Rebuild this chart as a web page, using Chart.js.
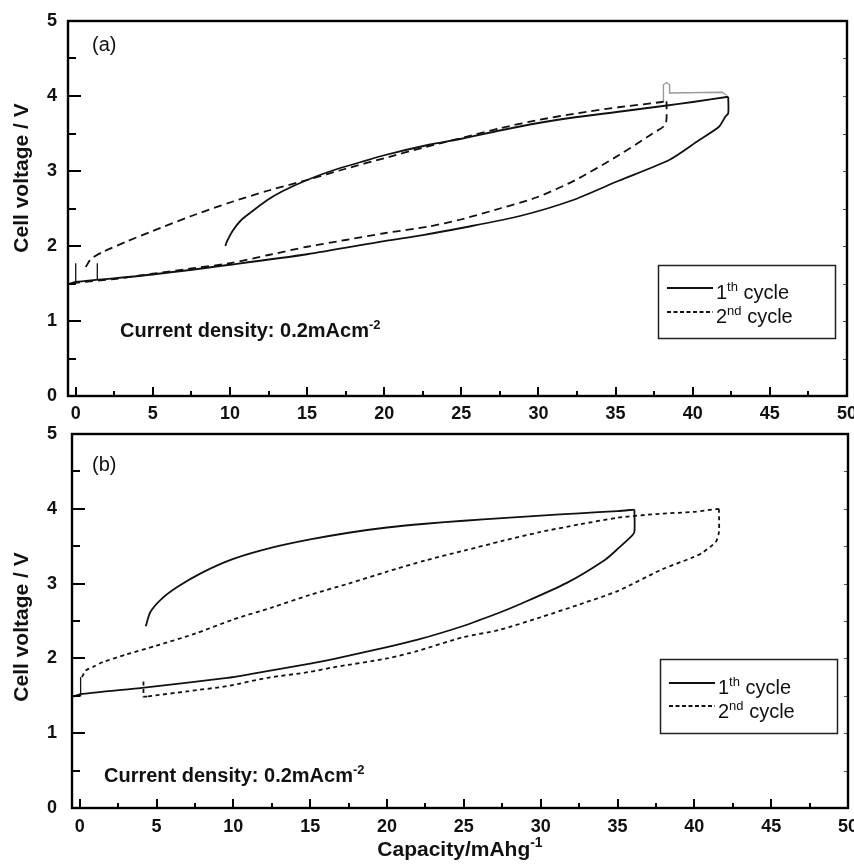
<!DOCTYPE html>
<html><head><meta charset="utf-8">
<script src="https://cdn.jsdelivr.net/npm/chart.js@4/dist/chart.umd.min.js"></script>
<style>
html,body{margin:0;padding:0;background:#fff;width:854px;height:866px;overflow:hidden}
canvas{position:absolute;left:0}
#ca{top:0}#cb{top:420px}
</style></head>
<body>
<canvas id="ca" width="854" height="420"></canvas>
<canvas id="cb" width="854" height="446"></canvas>
<script>
// ---- axis ticks ----
const xTicks = [0,5,10,15,20,25,30,35,40,45,50];
const yTicks = [0,1,2,3,4,5];

// ---- panel (a) ----
// 1st cycle: charge branch, then drop + discharge branch
const a1UpX = [9.7,9.8,10.2,10.7,11.3,12.4,13.4,15,16.7,18.5,20,22.9,25,27.5,30,32.5,35.2,38.2,40,42.3];
const a1UpY = [2.0,2.06,2.21,2.34,2.44,2.61,2.73,2.88,3.01,3.12,3.21,3.35,3.43,3.54,3.64,3.72,3.79,3.87,3.92,3.99];
const a1DnX = [42.3,42.3,42.1,41.7,40.4,38.5,35.2,32.2,28.8,25,22.5,20,15,10,5,0,-0.5];
const a1DnY = [3.99,3.77,3.72,3.59,3.41,3.15,2.87,2.61,2.4,2.24,2.145,2.065,1.89,1.75,1.62,1.52,1.49];
// 2nd cycle
const a2UpX = [0.65,1.0,1.75,3.3,5,7.5,10,12.5,15,17.5,20,22.5,25,27.5,30,32.5,35.2,38.0,38.3];
const a2UpY = [1.72,1.83,1.92,2.06,2.2,2.4,2.58,2.74,2.88,3.03,3.17,3.31,3.44,3.57,3.68,3.77,3.85,3.92,3.93];
const a2DnX = [38.3,38.3,38.2,37.4,35.2,32.4,29.9,27.5,24.9,22.9,20,17.5,15,12.5,10,7.5,5,2.5,0];
const a2DnY = [3.93,3.7,3.61,3.5,3.21,2.88,2.65,2.5,2.35,2.26,2.17,2.08,1.99,1.88,1.77,1.7,1.63,1.56,1.51];
// grey trace and small spikes
const aGrayX = [38.1,38.1,38.3,38.5,38.5,41.9,42.2];
const aGrayY = [3.92,4.15,4.18,4.15,4.04,4.05,4.01];
const aSpike1X = [0,0],   aSpike1Y = [1.51,1.77];
const aSpike2X = [1.4,1.4], aSpike2Y = [1.55,1.77];

// ---- panel (b) ----
const b1UpX = [4.3,4.6,5.3,6.4,8,10,12.5,15,17.5,20,22.5,25,27.5,30,32.5,35,36.1];
const b1UpY = [2.43,2.62,2.79,2.96,3.15,3.33,3.48,3.59,3.68,3.75,3.8,3.84,3.875,3.91,3.94,3.97,3.99];
const b1DnX = [36.1,36.1,35.9,35.1,34.2,31.7,28.6,27.3,24.9,22,20,16.5,15,11.1,9.6,4.2,0,-0.4];
const b1DnY = [3.99,3.69,3.63,3.48,3.32,3.01,2.72,2.61,2.43,2.25,2.15,1.99,1.93,1.79,1.74,1.61,1.52,1.49];
const b2UpX = [0.15,0.4,0.9,1.5,3,5,7.5,10,12.5,15,17.5,20,22.5,25,27.5,30,32.5,35,37.5,40,41.6];
const b2UpY = [1.75,1.84,1.89,1.95,2.05,2.17,2.33,2.52,2.68,2.85,3.0,3.16,3.31,3.44,3.57,3.69,3.79,3.88,3.93,3.96,4.0];
const b2DnX = [41.6,41.6,41.4,40.5,39.9,37.9,35,32.5,30,27.3,24.9,22,20,16.5,15,12.2,9.6,7,4.4];
const b2DnY = [4.0,3.69,3.56,3.41,3.35,3.19,2.9,2.72,2.55,2.38,2.28,2.1,2.0,1.88,1.82,1.74,1.63,1.56,1.49];
const b2HookX = [4.4,4.15,4.15], b2HookY = [1.49,1.49,1.72];
const bSpikeX = [0.06,0.06], bSpikeY = [1.49,1.75];

const seriesNames = ['1', '2'];
const FF = '"Liberation Sans", Arial, Helvetica, sans-serif';
const INK = '#111';

function pts(xs, ys){ return xs.map((x,i)=>({x:x, y:ys[i]})); }
function ds(xs, ys, dash, color, w, t){
  return {data: pts(xs, ys), showLine:true, pointRadius:0, borderColor:color||INK,
          borderWidth:w||1.8, borderDash:dash||[], fill:false, tension:(t===undefined?0.25:t)};
}

function rich(ctx, x, y, parts, size, weight){
  let cx = x;
  for (const [t, sup] of parts){
    const fs = sup ? Math.round(size*0.66) : size;
    ctx.font = weight + ' ' + fs + 'px ' + FF;
    ctx.fillText(t, cx, sup ? y - size*0.42 : y);
    cx += ctx.measureText(t).width;
  }
  return cx;
}
function textWidth(ctx, parts, size, weight){
  let w = 0;
  for (const [t, sup] of parts){
    const fs = sup ? Math.round(size*0.66) : size;
    ctx.font = weight + ' ' + fs + 'px ' + FF;
    w += ctx.measureText(t).width;
  }
  return w;
}

function makeChart(id, datasets, P){
  const deco = {
    id: 'deco',
    afterDraw(chart){
      const ctx = chart.ctx, a = chart.chartArea;
      const xs = chart.scales.x, ys = chart.scales.y;
      ctx.save();
      ctx.strokeStyle = '#000';
      // inner ticks
      ctx.lineWidth = 2;
      ctx.beginPath();
      for (let v = 0; v <= 50.001; v += 2.5){
        const px = Math.round(xs.getPixelForValue(v));
        const len = (v % 5 === 0) ? 9 : 5;
        ctx.moveTo(px, a.bottom); ctx.lineTo(px, a.bottom - len);
      }
      for (let v = 0; v <= 5.001; v += 0.5){
        const py = Math.round(ys.getPixelForValue(v));
        const len = Number.isInteger(v) ? 13 : 8;
        ctx.moveTo(a.left, py); ctx.lineTo(a.left + len, py);
      }
      ctx.stroke();
      ctx.lineWidth = 1;
      ctx.strokeStyle = '#555';
      ctx.beginPath();
      for (let v = 0; v <= 5.001; v += 0.5){
        const py = Math.round(ys.getPixelForValue(v)) + 0.5;
        ctx.moveTo(a.right, py); ctx.lineTo(a.right - 4, py);
      }
      ctx.stroke();
      // frame
      ctx.strokeStyle = '#000';
      ctx.lineWidth = 2.4;
      ctx.strokeRect(a.left, a.top, a.right - a.left, a.bottom - a.top);

      ctx.fillStyle = '#111';
      ctx.textBaseline = 'alphabetic';
      ctx.textAlign = 'left';
      // panel label
      ctx.font = 'normal 20px ' + FF;
      ctx.fillText(P.label, P.labelX, P.labelY);
      // annotation
      rich(ctx, P.annX, P.annY, [['Current density: 0.2mAcm', false], ['-2', true]], 20, 'bold');
      // legend
      const L = P.leg;
      ctx.lineWidth = 1.5;
      ctx.strokeStyle = '#222';
      ctx.strokeRect(L.x0 + 0.5, L.y0 + 0.5, L.x1 - L.x0, L.y1 - L.y0);
      ctx.lineWidth = 1.8;
      ctx.strokeStyle = INK;
      ctx.beginPath(); ctx.setLineDash([]);
      ctx.moveTo(L.lx0, L.r1); ctx.lineTo(L.lx1, L.r1); ctx.stroke();
      ctx.beginPath(); ctx.setLineDash([4, 2.5]);
      ctx.moveTo(L.lx0, L.r2); ctx.lineTo(L.lx1, L.r2); ctx.stroke();
      ctx.setLineDash([]);
      rich(ctx, L.tx, L.b1, [[seriesNames[0], false], ['th', true], [' cycle', false]], 20, 'normal');
      rich(ctx, L.tx, L.b2, [[seriesNames[1], false], ['nd', true], [' cycle', false]], 20, 'normal');
      // y title
      ctx.save();
      ctx.translate(P.ytX, P.ytY);
      ctx.rotate(-Math.PI/2);
      ctx.textAlign = 'center';
      ctx.font = 'bold 21px ' + FF;
      ctx.fillText('Cell voltage / V', 0, 0);
      ctx.restore();
      // x title
      if (P.xTitle){
        const parts = [['Capacity/mAhg', false], ['-1', true]];
        const w = textWidth(ctx, parts, 21, 'bold');
        const cx = (a.left + a.right) / 2;
        rich(ctx, cx - w/2, P.xtY, parts, 21, 'bold');
      }
      ctx.restore();
    }
  };
  return new Chart(document.getElementById(id), {
    type: 'scatter',
    data: { datasets: datasets },
    options: {
      responsive: false, animation: false, devicePixelRatio: 1,
      layout: { padding: { left: 0, top: P.top, right: P.right, bottom: 0 } },
      plugins: { legend: { display: false }, tooltip: { enabled: false } },
      scales: {
        x: {
          type: 'linear', min: -0.5, max: 50,
          afterBuildTicks: s => { s.ticks = xTicks.map(v => ({ value: v })); },
          afterFit: s => { s.height = P.xh; s.paddingLeft = 0; s.paddingRight = 0; },
          grid: { display: false, drawTicks: false }, border: { display: false },
          ticks: { color: '#111', padding: P.xpad, maxRotation: 0, autoSkip: false,
                   font: { family: FF, size: 18, weight: 'bold' } }
        },
        y: {
          type: 'linear', min: 0, max: 5,
          afterBuildTicks: s => { s.ticks = yTicks.map(v => ({ value: v })); },
          afterFit: s => { s.width = P.yw; s.paddingTop = 0; s.paddingBottom = 0; },
          grid: { display: false, drawTicks: false }, border: { display: false },
          ticks: { color: '#111', padding: P.ypad, autoSkip: false,
                   font: { family: FF, size: 18, weight: 'bold' } }
        }
      }
    },
    plugins: [deco]
  });
}

makeChart('ca', [
  ds(a1UpX, a1UpY),
  ds(a1DnX, a1DnY),
  ds(a2UpX, a2UpY, [8, 5]),
  ds(a2DnX, a2DnY, [8, 5]),
  ds(aGrayX, aGrayY, [], '#9a9a9a', 1.4, 0),
  ds(aSpike1X, aSpike1Y, [], INK, 1.3, 0),
  ds(aSpike2X, aSpike2Y, [], INK, 1.3, 0)
], {
  top: 21, right: 7, xh: 24, yw: 68, xpad: 7, ypad: 11,
  label: '(a)', labelX: 92, labelY: 51,
  annX: 120, annY: 337,
  leg: { x0: 658, y0: 265, x1: 835, y1: 338, lx0: 667, lx1: 713, r1: 288, r2: 312, tx: 716, b1: 299, b2: 323 },
  ytX: 28, ytY: 178, xTitle: false
});

makeChart('cb', [
  ds(b1UpX, b1UpY),
  ds(b1DnX, b1DnY),
  ds(b2UpX, b2UpY, [4, 3.5]),
  ds(b2DnX, b2DnY, [4, 3.5]),
  ds(b2HookX, b2HookY, [4, 3.5], INK, 1.8, 0),
  ds(bSpikeX, bSpikeY, [], INK, 1.3, 0)
], {
  top: 14, right: 6, xh: 58, yw: 72, xpad: 8, ypad: 15,
  label: '(b)', labelX: 92, labelY: 51,
  annX: 104, annY: 362,
  leg: { x0: 660, y0: 239, x1: 837, y1: 313, lx0: 669, lx1: 715, r1: 263, r2: 286, tx: 718, b1: 274, b2: 298 },
  ytX: 28, ytY: 207, xTitle: true, xtY: 436
});
</script>
</body></html>
